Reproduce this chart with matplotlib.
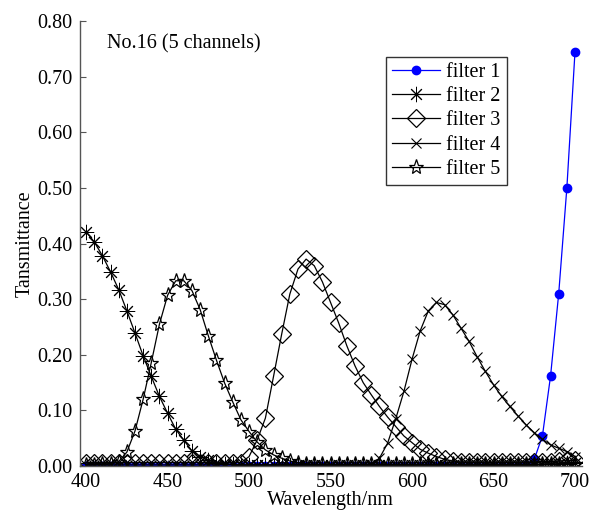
import numpy as np
from matplotlib import pyplot as plt

# transmittance curves of the 5-channel filter set No.16, sampled every 5 nm
wavelength = np.arange(400, 705, 5)

filter_1 = [0.000, 0.000, 0.000, 0.000, 0.000, 0.000, 0.000, 0.000, 0.000, 0.000,
            0.000, 0.000, 0.000, 0.000, 0.000, 0.000, 0.000, 0.000, 0.000, 0.000,
            0.000, 0.000, 0.000, 0.000, 0.000, 0.000, 0.000, 0.000, 0.000, 0.000,
            0.000, 0.000, 0.000, 0.000, 0.000, 0.000, 0.000, 0.000, 0.000, 0.000,
            0.000, 0.000, 0.000, 0.000, 0.000, 0.000, 0.000, 0.000, 0.000, 0.000,
            0.000, 0.000, 0.000, 0.000, 0.001, 0.012, 0.054, 0.162, 0.310, 0.500,
            0.745]
filter_2 = [0.421, 0.403, 0.378, 0.349, 0.317, 0.279, 0.239, 0.198, 0.161, 0.125,
            0.095, 0.066, 0.046, 0.027, 0.017, 0.010, 0.006, 0.004, 0.003, 0.002,
            0.002, 0.002, 0.002, 0.002, 0.002, 0.002, 0.002, 0.002, 0.002, 0.002,
            0.002, 0.002, 0.002, 0.002, 0.002, 0.002, 0.002, 0.002, 0.002, 0.002,
            0.002, 0.002, 0.002, 0.002, 0.002, 0.002, 0.002, 0.002, 0.002, 0.002,
            0.002, 0.002, 0.002, 0.002, 0.002, 0.003, 0.003, 0.004, 0.004, 0.005,
            0.005]
filter_3 = [0.006, 0.006, 0.006, 0.006, 0.006, 0.006, 0.006, 0.006, 0.006, 0.006,
            0.006, 0.006, 0.006, 0.006, 0.006, 0.006, 0.006, 0.006, 0.006, 0.006,
            0.017, 0.047, 0.086, 0.161, 0.237, 0.309, 0.354, 0.372, 0.360, 0.331,
            0.294, 0.257, 0.216, 0.180, 0.150, 0.128, 0.107, 0.088, 0.071, 0.054,
            0.042, 0.030, 0.023, 0.017, 0.012, 0.009, 0.007, 0.007, 0.007, 0.007,
            0.007, 0.007, 0.007, 0.007, 0.007, 0.007, 0.008, 0.008, 0.009, 0.010,
            0.010]
filter_4 = [0.002, 0.002, 0.002, 0.002, 0.002, 0.002, 0.002, 0.002, 0.002, 0.002,
            0.002, 0.002, 0.002, 0.002, 0.002, 0.002, 0.002, 0.002, 0.002, 0.002,
            0.002, 0.002, 0.002, 0.002, 0.002, 0.002, 0.002, 0.002, 0.002, 0.002,
            0.002, 0.002, 0.002, 0.002, 0.002, 0.004, 0.014, 0.041, 0.085, 0.134,
            0.192, 0.243, 0.279, 0.294, 0.290, 0.272, 0.248, 0.224, 0.196, 0.170,
            0.146, 0.125, 0.107, 0.090, 0.074, 0.060, 0.048, 0.038, 0.032, 0.026,
            0.017]
filter_5 = [0.002, 0.002, 0.003, 0.004, 0.008, 0.025, 0.063, 0.120, 0.186, 0.255,
            0.307, 0.333, 0.333, 0.315, 0.281, 0.234, 0.190, 0.149, 0.115, 0.083,
            0.062, 0.043, 0.029, 0.020, 0.014, 0.009, 0.006, 0.004, 0.003, 0.003,
            0.003, 0.003, 0.003, 0.003, 0.003, 0.003, 0.003, 0.003, 0.003, 0.003,
            0.003, 0.003, 0.003, 0.003, 0.003, 0.003, 0.003, 0.003, 0.003, 0.003,
            0.003, 0.003, 0.003, 0.003, 0.003, 0.003, 0.003, 0.003, 0.003, 0.003,
            0.003]

labels = ['filter 1', 'filter 2', 'filter 3', 'filter 4', 'filter 5']
y_ticks = [0.0, 0.1, 0.2, 0.3, 0.4, 0.5, 0.6, 0.7, 0.8]
x_ticks = [400, 450, 500, 550, 600, 650, 700]

plt.rcParams['font.family'] = ['Liberation Serif', 'DejaVu Serif']
fs = 14.5

fig = plt.figure(figsize=(5.94, 5.13), dpi=100)
ax = fig.add_axes([0.134, 0.0916, 0.845, 0.8674])

asterisk = (8, 2, 0)
ax.plot(wavelength, filter_1, color='blue', marker='o', ms=6, lw=0.9, label=labels[0])
ax.plot(wavelength, filter_2, color='black', marker=asterisk, ms=11, mew=0.7, lw=0.9,
        label=labels[1])
ax.plot(wavelength, filter_3, color='black', marker='D', ms=9, mfc='none', mew=0.9,
        lw=0.9, label=labels[2])
ax.plot(wavelength, filter_4, color='black', marker='x', ms=7, mew=0.8, lw=0.9,
        label=labels[3])
ax.plot(wavelength, filter_5, color='black', marker='*', ms=11, mfc='none', mew=0.9,
        lw=0.9, label=labels[4])

ax.set_xlim(396, 704)
ax.set_ylim(0, 0.8)
ax.set_xticks(x_ticks)
ax.set_yticks(y_ticks)
ax.set_yticklabels(['%.2f' % v for v in y_ticks])
ax.tick_params(direction='in', length=4, width=0.8, color='#555555', labelsize=fs, pad=5)

for side in ['top', 'right']:
    ax.spines[side].set_visible(False)
for side in ['left', 'bottom']:
    ax.spines[side].set_color('#555555')
    ax.spines[side].set_linewidth(1.0)

ax.set_xlabel('Wavelength/nm', fontsize=fs, labelpad=-1)
ax.set_ylabel('Tansmittance', fontsize=fs, labelpad=2)

ax.text(0.054, 0.948, 'No.16 (5 channels)', transform=ax.transAxes, fontsize=fs,
        va='center', ha='left')

leg = ax.legend(loc='upper left', bbox_to_anchor=(0.61, 0.919), borderaxespad=0,
                fontsize=fs, frameon=True, fancybox=False, handlelength=2.4,
                handletextpad=0.3, labelspacing=0.25, borderpad=0.3)
leg.get_frame().set_edgecolor('black')
leg.get_frame().set_linewidth(1.0)

fig.savefig('out.png', dpi=100)
